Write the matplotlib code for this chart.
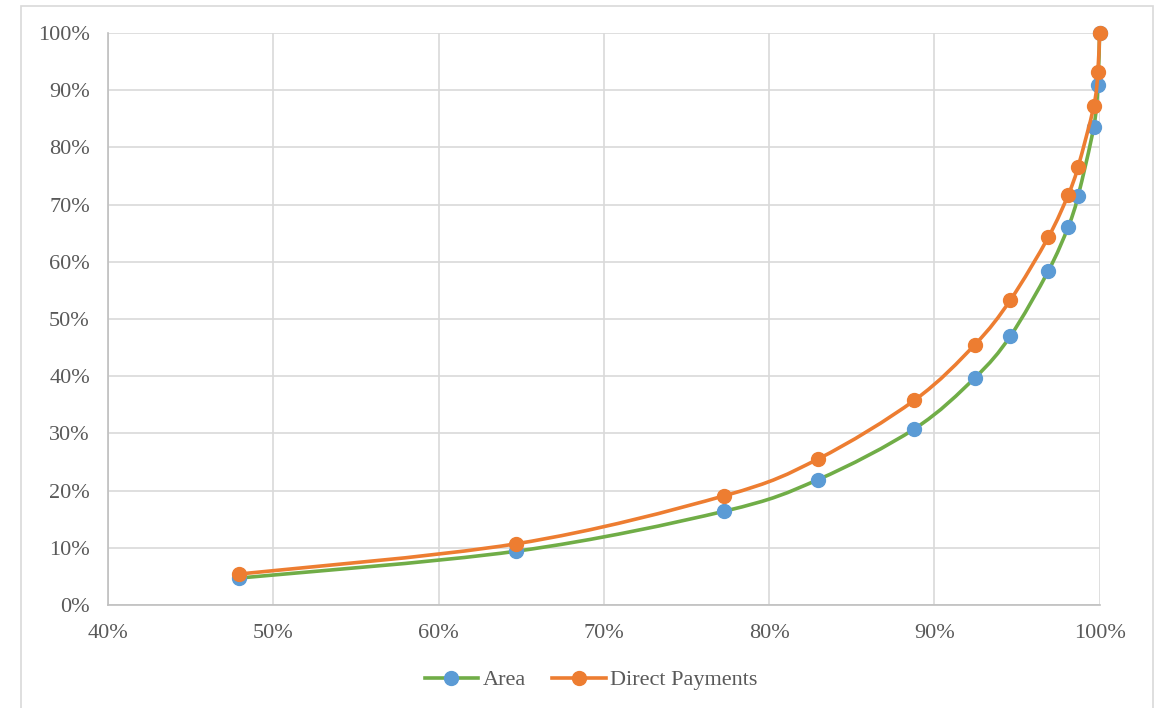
import numpy as np
import matplotlib.pyplot as plt
from matplotlib.path import Path
from matplotlib.patches import PathPatch, Rectangle
from matplotlib.lines import Line2D
from matplotlib.ticker import PercentFormatter

# cumulative share of farms (x) vs cumulative share of area / payments (y), in %
farms = [47.9, 64.7, 77.3, 82.95, 88.8, 92.45, 94.6, 96.9, 98.1, 98.7, 99.65, 99.9, 100.0]
area = [4.7, 9.4, 16.4, 21.9, 30.8, 39.7, 47.0, 58.4, 66.1, 71.5, 83.6, 90.9, 100.0]
payments = [5.4, 10.7, 19.1, 25.5, 35.8, 45.5, 53.3, 64.3, 71.7, 76.6, 87.2, 93.2, 100.0]

plt.rcParams['font.family'] = ['Liberation Serif', 'DejaVu Serif']

GREEN = '#70ad47'
BLUE = '#5b9bd5'
ORANGE = '#ed7d31'
GRID = '#d9d9d9'
TEXT = '#595959'


def smooth_path(x, y, t=1 / 6):
    # excel-style smoothed line: cubic bezier segments through every point
    pts = np.column_stack([x, y])
    n = len(pts)
    verts = [pts[0]]
    codes = [Path.MOVETO]
    for i in range(n - 1):
        p0 = pts[max(i - 1, 0)]
        p1 = pts[i]
        p2 = pts[i + 1]
        p3 = pts[min(i + 2, n - 1)]
        c1 = p1 + (p2 - p0) * t
        c2 = p2 - (p3 - p1) * t
        verts += [c1, c2, p2]
        codes += [Path.CURVE4] * 3
    return Path(verts, codes)


fig = plt.figure(figsize=(11.55, 7.08), dpi=100)
ax = fig.add_axes([0.0935, 0.1455, 0.8585, 0.8079])

fig.patches.append(Rectangle((21 / 1155, -0.05), (1153 - 21) / 1155, 1.05 - 6 / 708,
                             transform=fig.transFigure, fill=False,
                             edgecolor='#d9d9d9', linewidth=1.2))

ax.add_patch(PathPatch(smooth_path(farms, area), fill=False, edgecolor=GREEN,
                       linewidth=2.6, zorder=3, clip_on=False))
ax.plot(farms, area, 'o', color=BLUE, markersize=10, zorder=4, clip_on=False)
ax.add_patch(PathPatch(smooth_path(farms, payments), fill=False, edgecolor=ORANGE,
                       linewidth=2.6, zorder=5, clip_on=False))
ax.plot(farms, payments, 'o', color=ORANGE, markersize=10, zorder=6, clip_on=False)

ax.set_xlim(40, 100)
ax.set_ylim(0, 100)
ax.set_xticks(np.arange(40, 101, 10))
ax.set_yticks(np.arange(0, 101, 10))
ax.xaxis.set_major_formatter(PercentFormatter(decimals=0))
ax.yaxis.set_major_formatter(PercentFormatter(decimals=0))
ax.grid(True, color=GRID, linewidth=1.2)
ax.set_axisbelow(True)
for side in ['top', 'right']:
    ax.spines[side].set_visible(False)
for side in ['left', 'bottom']:
    ax.spines[side].set_color('#bfbfbf')
    ax.spines[side].set_linewidth(1.2)
ax.tick_params(length=0, labelsize=16, labelcolor=TEXT)
ax.tick_params(axis='x', pad=14)
ax.tick_params(axis='y', pad=13)

handles = [
    Line2D([], [], color=GREEN, linewidth=2.6, marker='o', markersize=10,
           markerfacecolor=BLUE, markeredgecolor=BLUE),
    Line2D([], [], color=ORANGE, linewidth=2.6, marker='o', markersize=10),
]
fig.legend(handles, ['Area', 'Direct Payments'], loc='center',
           bbox_to_anchor=(591 / 1155, 1 - 680 / 708), ncol=2, frameon=False,
           fontsize=16, labelcolor=TEXT, handlelength=2.4, columnspacing=1.2,
           handletextpad=0.2)

fig.savefig('out.png', dpi=100)
